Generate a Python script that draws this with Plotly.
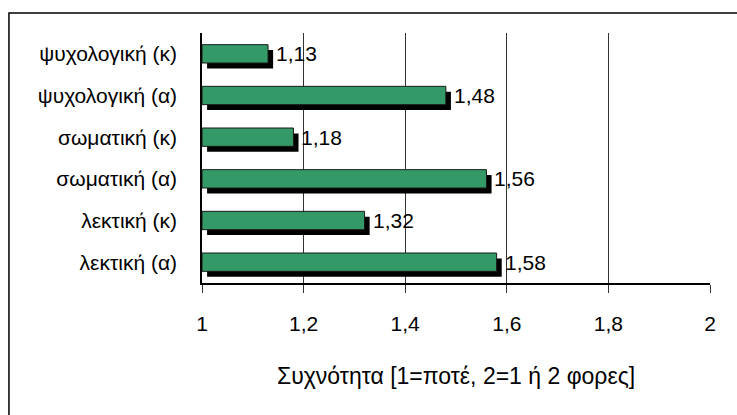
import plotly.graph_objects as go

# Categories listed bottom to top
categories = ["λεκτική (α)", "λεκτική (κ)", "σωματική (α)", "σωματική (κ)",
              "ψυχολογική (α)", "ψυχολογική (κ)"]
values = [1.58, 1.32, 1.56, 1.18, 1.48, 1.13]
x_ticks = [1, 1.2, 1.4, 1.6, 1.8, 2]
x_title = "Συχνότητα [1=ποτέ, 2=1 ή 2 φορες]"

BASE = 1.0
SHIFT_X = 0.01      # drop-shadow horizontal shift (data units)
BAR_W = 0.44
SHADOW_DROP = 0.13  # drop-shadow vertical shift (category units)
FONT = "Liberation Sans, Arial, sans-serif"
FS = 21

fig = go.Figure()

# Drop shadow behind each bar
fig.add_trace(go.Bar(
    y=categories, x=[v - BASE for v in values], base=BASE + SHIFT_X,
    orientation="h", width=BAR_W, offset=-BAR_W / 2 - SHADOW_DROP,
    marker=dict(color="black", line=dict(width=0)),
    hoverinfo="skip", showlegend=False,
))

# Main green bars
fig.add_trace(go.Bar(
    y=categories, x=[v - BASE for v in values], base=BASE,
    orientation="h", width=BAR_W, offset=-BAR_W / 2,
    marker=dict(color="#339966", line=dict(color="#1a1a1a", width=1)),
    showlegend=False,
))

# Value labels to the right of each bar
for cat, v in zip(categories, values):
    fig.add_annotation(
        x=v, y=cat, text=f"{v:.2f}".replace(".", ","),
        xanchor="left", yanchor="middle", xshift=6, showarrow=False,
        font=dict(family=FONT, size=FS, color="black"),
    )

# Axis title placed below the tick labels
fig.add_annotation(
    x=0.5, y=-0.37, xref="paper", yref="paper", text=x_title,
    xanchor="center", yanchor="middle", showarrow=False,
    font=dict(family=FONT, size=23, color="black"),
)

# Outer frame of the chart
fig.add_shape(type="rect", xref="paper", yref="paper",
              x0=-0.38, y0=-0.8, x1=1.2, y1=1.08,
              line=dict(color="black", width=1.5), layer="below")

fig.update_layout(
    width=737, height=415,
    margin=dict(l=202, r=27, t=33, b=132),
    paper_bgcolor="white", plot_bgcolor="white",
    barmode="overlay",
    separators=",.",
    font=dict(family=FONT, size=FS, color="black"),
    xaxis=dict(
        range=[1, 2], tickvals=x_ticks,
        showgrid=True, gridcolor="#333333", gridwidth=1,
        showline=True, linecolor="black", linewidth=1.5,
        ticks="outside", ticklen=8, tickcolor="#333333",
        ticklabelstandoff=13,
        tickfont=dict(family=FONT, size=FS),
        zeroline=False, fixedrange=True,
    ),
    yaxis=dict(
        type="category", categoryorder="array", categoryarray=categories,
        showline=True, linecolor="black", linewidth=1.5,
        showgrid=False, ticks="", ticklabelstandoff=19,
        tickfont=dict(family=FONT, size=FS),
        fixedrange=True,
    ),
)

fig.write_html("out.html")
